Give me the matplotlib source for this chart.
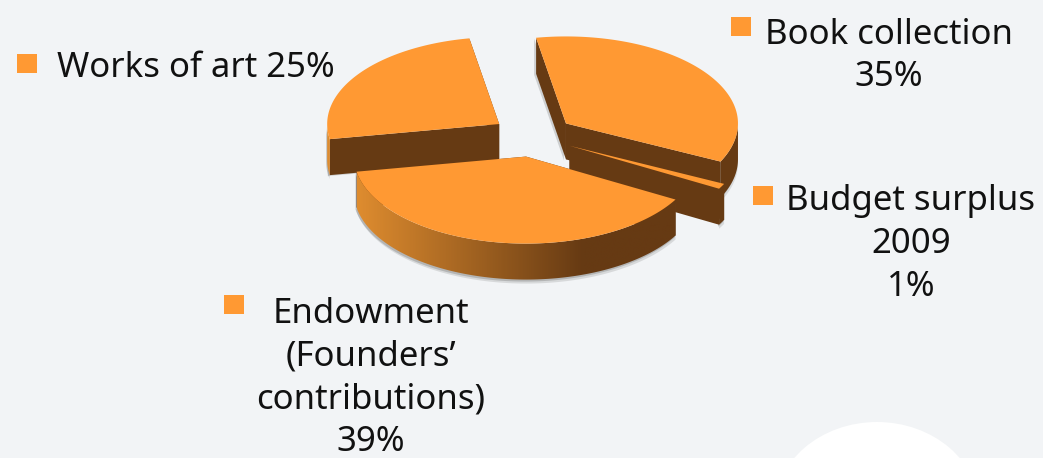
import numpy as np
import matplotlib
matplotlib.use('Agg')
import matplotlib.pyplot as plt
from matplotlib.colors import LinearSegmentedColormap
from matplotlib.patches import Ellipse, Polygon, Rectangle

# slices in the order round the pie, and the order they get painted
pie_order = ['Book collection', 'Budget surplus', 'Endowment', 'Works of art']
pie_values = [35, 1, 39, 25]
draw_order = ['Works of art', 'Book collection', 'Budget surplus', 'Endowment']

labels = ['Works of art 25%', 'Book collection\n35%', 'Budget surplus\n2009\n1%',
          'Endowment\n(Founders’\ncontributions)\n39%']
label_pos = [(196, 68), (889, 56), (911, 244), (371, 378)]
bullet_pos = [(17, 54), (731, 17), (753, 186), (224, 295)]

ORANGE = '#FF9933'
BROWN = '#663A13'
BG = '#F2F4F6'

# pie geometry in pixels
cx, cy = 533, 136
a, b, depth = 172, 87, 36
explode = 0.24
start_angle = -10


def pt(c, theta):
    t = np.radians(theta)
    return np.array([c[0] + a * np.sin(t), c[1] - b * np.cos(t)])


def arc(c, t0, t1):
    ts = np.linspace(t0, t1, 120)
    return np.array([pt(c, t) for t in ts])


fig = plt.figure(figsize=(10.43, 4.58), dpi=100, facecolor=BG)
ax = fig.add_axes([0, 0, 1, 1])
ax.axis('off')

# faint white shape in the slide background
ax.add_patch(Ellipse((877, 510), 205, 176, fc='white', ec='none', zorder=0))

# work out the angles of each slice from the values
total = sum(pie_values)
angles = {}
t = start_angle
for name, v in zip(pie_order, pie_values):
    angles[name] = (t, t + 360 * v / total)
    t += 360 * v / total

z = 1
down = np.array([0, depth])
cmap = LinearSegmentedColormap.from_list('wall', ['#DE8C2F', BROWN])
for name in draw_order:
    t0, t1 = angles[name]
    m = np.radians((t0 + t1) / 2)
    c = (cx + a * explode * np.sin(m), cy - b * explode * np.cos(m))
    apex = np.array(c)
    edge = arc(c, t0, t1)

    # outer wall, only the part that faces the viewer
    f0, f1 = max(t0, 90), min(t1, 270)
    wall = None
    if f1 > f0:
        front = arc(c, f0, f1)
        wall = np.vstack([front, (front + down)[::-1]])
        for off, alpha in [((0, 4), 0.25), ((-1, 2), 0.45)]:
            ax.add_patch(Polygon(wall + off, fc='#8A8A8A', ec='none', alpha=alpha, zorder=z))
            z += 1

    # the two cut faces, the first one of the upper slices throws a soft edge
    for i, p in enumerate([edge[0], edge[-1]]):
        quad = np.array([apex, p, p + down, apex + down])
        if i == 0 and name in ('Works of art', 'Book collection'):
            ax.add_patch(Polygon(quad + (-2, 1), fc='#8A8A8A', ec='none', alpha=0.35, zorder=z))
            z += 1
        ax.add_patch(Polygon(quad, fc=BROWN, ec='none', zorder=z))
        z += 1

    if wall is not None:
        if name == 'Endowment':
            poly = Polygon(wall, fc='none', ec='none', zorder=z)
            ax.add_patch(poly)
            ramp = np.clip(np.linspace(0, 1, 300) / 0.71, 0, 1)[None, :]
            im = ax.imshow(ramp, cmap=cmap, extent=(357, 677, 300, 150), aspect='auto', zorder=z)
            im.set_clip_path(poly)
        elif name == 'Works of art':
            ax.add_patch(Polygon(wall, fc='#DE8C2F', ec='none', zorder=z))
        else:
            ax.add_patch(Polygon(wall, fc=BROWN, ec='none', zorder=z))
        z += 1

    # top face
    ax.add_patch(Polygon(np.vstack([apex, edge]), fc=ORANGE, ec='none', zorder=z))
    z += 1

ax.set_xlim(0, 1043)
ax.set_ylim(458, 0)

for (bx, by) in bullet_pos:
    ax.add_patch(Rectangle((bx, by), 19.5, 19, fc=ORANGE, ec='none', zorder=z))

for text, (lx, ly) in zip(labels, label_pos):
    ax.text(lx, ly, text, ha='center', va='center', ma='center', fontsize=25,
            family='Noto Sans', color='#111111', linespacing=1.33, zorder=z + 1)

fig.savefig('out.png', dpi=100, facecolor=BG)
